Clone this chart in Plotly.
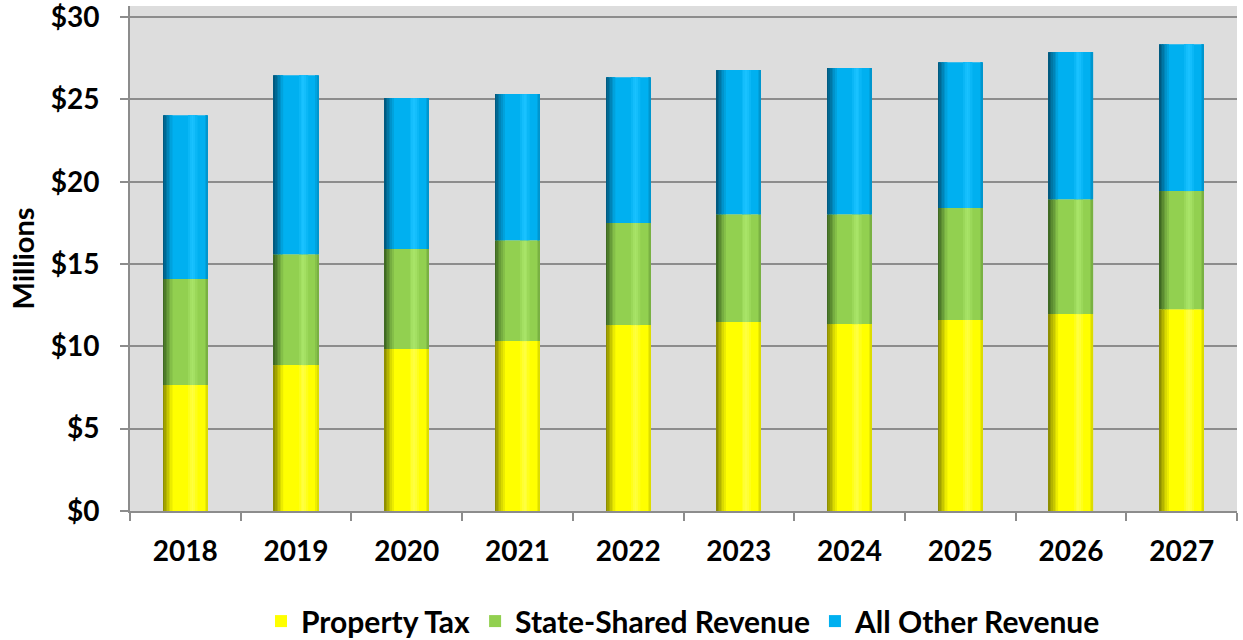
import plotly.graph_objects as go

years = ["2018", "2019", "2020", "2021", "2022", "2023", "2024", "2025", "2026", "2027"]
property_tax = [7.65, 8.86, 9.84, 10.32, 11.29, 11.48, 11.35, 11.60, 11.96, 12.26]
state_shared = [6.44, 6.74, 6.07, 6.13, 6.20, 6.55, 6.68, 6.80, 6.98, 7.17]
all_other = [9.95, 10.87, 9.17, 8.87, 8.86, 8.75, 8.87, 8.86, 8.93, 8.92]
y_ticks = [0, 5, 10, 15, 20, 25, 30]
y_tick_labels = ["$0", "$5", "$10", "$15", "$20", "$25", "$30"]

FONT = "Lato"
BAR_W = 0.4

series = [
    ("Property Tax", property_tax, "#FFFF00", "#8F8F00", "#FFFF40"),
    ("State-Shared Revenue", state_shared, "#92D050", "#3F6A22", "#A8E468"),
    ("All Other Revenue", all_other, "#00B0F0", "#005A80", "#19C2FF"),
]


def hex_to_rgb(h):
    h = h.lstrip("#")
    return tuple(int(h[i:i + 2], 16) for i in (0, 2, 4))


def blend(c1, c2, t):
    a, b = hex_to_rgb(c1), hex_to_rgb(c2)
    return "rgb(%d,%d,%d)" % tuple(round(a[i] + (b[i] - a[i]) * t) for i in range(3))


fig = go.Figure()
bases = [0.0] * len(years)
for name, vals, main, dark, light in series:
    base = list(bases)
    fig.add_trace(go.Bar(x=years, y=vals, base=base, name=name, width=BAR_W, offset=-BAR_W / 2,
                         marker=dict(color=main, line=dict(width=0)), showlegend=True))
    # cylinder shading: dark left edge fading to main colour
    n_left = 6
    sw = 0.014
    for i in range(n_left):
        fig.add_trace(go.Bar(x=years, y=vals, base=base, width=sw, offset=-BAR_W / 2 + i * sw,
                             marker=dict(color=blend(dark, main, i / n_left), line=dict(width=0)),
                             showlegend=False, hoverinfo="skip"))
    # highlight band
    for i, t in enumerate([0.4, 0.8, 1.0, 0.8, 0.4]):
        fig.add_trace(go.Bar(x=years, y=vals, base=base, width=0.016, offset=0.03 + i * 0.016,
                             marker=dict(color=blend(main, light, t), line=dict(width=0)),
                             showlegend=False, hoverinfo="skip"))
    # slight darkening at right edge
    for i, t in enumerate([0.15, 0.3]):
        fig.add_trace(go.Bar(x=years, y=vals, base=base, width=0.01, offset=BAR_W / 2 - 0.02 + i * 0.01,
                             marker=dict(color=blend(main, dark, t), line=dict(width=0)),
                             showlegend=False, hoverinfo="skip"))
    bases = [b + v for b, v in zip(bases, vals)]

fig.update_layout(
    width=1243, height=640,
    barmode="overlay",
    margin=dict(l=130, r=6, t=6, b=129, autoexpand=False),
    paper_bgcolor="white", plot_bgcolor="#DDDDDD",
    font=dict(family=FONT, color="black"),
    showlegend=True,
    legend=dict(orientation="h", x=0.5, xanchor="center", xref="paper",
                y=-0.218, yanchor="middle",
                font=dict(family=FONT, size=30, color="black", weight="bold"),
                itemwidth=30, traceorder="normal"),
    xaxis=dict(type="category", showgrid=False, ticks="outside", tickson="boundaries",
               ticklen=8, tickcolor="#8C8C8C", tickwidth=2,
               showline=True, linecolor="#8C8C8C", linewidth=2,
               tickfont=dict(family=FONT, size=28, color="black", weight="bold"),
               ticklabelstandoff=14, ticklabeloverflow="allow"),
    yaxis=dict(range=[0, 30.67], tickvals=y_ticks, ticktext=y_tick_labels,
               showgrid=True, gridcolor="#8C8C8C", gridwidth=2,
               ticks="outside", ticklen=8, tickcolor="#8C8C8C", tickwidth=2,
               showline=True, linecolor="#8C8C8C", linewidth=2, zeroline=False,
               tickfont=dict(family=FONT, size=28, color="black", weight="bold"),
               ticklabelstandoff=15, ticklabeloverflow="allow",
               title=dict(text="Millions", standoff=8,
                          font=dict(family=FONT, size=29, color="black", weight="bold"))),
)

fig.write_html("out.html", config={"displayModeBar": False},
               post_script="document.body.style.margin='0';document.body.style.padding='0';")
